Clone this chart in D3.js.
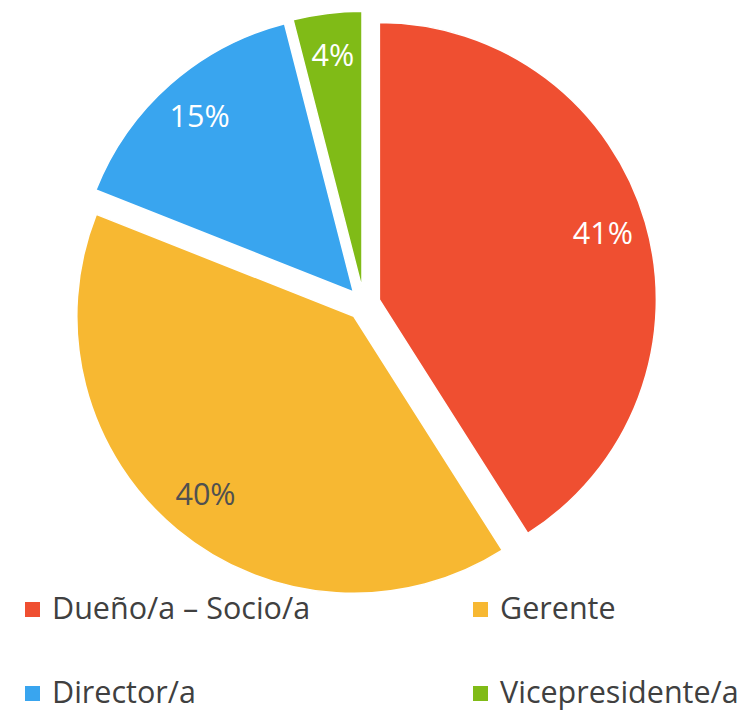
<!DOCTYPE html>
<html>
<head>
<meta charset="utf-8">
<script src="https://cdn.jsdelivr.net/npm/d3@7"></script>
<style>
  body { margin: 0; background: #fff; }
  text { font-family: "Open Sans", "Noto Sans", sans-serif; }
</style>
</head>
<body>
<svg id="chart" width="739" height="711"></svg>
<script>
let categories = ["Dueño/a – Socio/a", "Gerente", "Director/a", "Vicepresidente/a"]
let values = [41, 40, 15, 4]
let colors = ["#EF4F31", "#F7B832", "#39A5EF", "#80BB17"]
let labelColors = ["#ffffff", "#505050", "#ffffff", "#ffffff"]

let svg = d3.select("#chart")

let cx = 364, cy = 304
let radius = 277
let explode = 16

let pie = d3.pie().sort(null).value(d => d)
let arcs = pie(values)

let arc = d3.arc().innerRadius(0).outerRadius(radius)
let labelArc = d3.arc().innerRadius(radius * 0.84).outerRadius(radius * 0.84)

let shift = d => {
  let a = (d.startAngle + d.endAngle) / 2
  return [Math.sin(a) * explode, -Math.cos(a) * explode]
}

let g = svg.append("g").attr("transform", `translate(${cx},${cy})`)

let slices = g.selectAll("g.slice")
  .data(arcs)
  .enter()
  .append("g")
  .attr("class", "slice")
  .attr("transform", d => `translate(${shift(d)})`)

slices.append("path")
  .attr("d", arc)
  .attr("fill", (d, i) => colors[i])
  .attr("stroke", "#fff")
  .attr("stroke-width", 1.5)

slices.append("text")
  .attr("transform", d => `translate(${labelArc.centroid(d)})`)
  .attr("text-anchor", "middle")
  .attr("dy", "0.3em")
  .attr("font-size", 30.5)
  .attr("fill", (d, i) => labelColors[i])
  .text(d => d.data + "%")

// legend
let legendX = d3.scaleOrdinal().domain([0, 1]).range([25, 473])
let legendY = d3.scaleOrdinal().domain([0, 1]).range([602, 686])

let legend = svg.selectAll("g.legend")
  .data(categories)
  .enter()
  .append("g")
  .attr("class", "legend")
  .attr("transform", (d, i) => `translate(${legendX(i % 2)},${legendY(Math.floor(i / 2))})`)

legend.append("rect")
  .attr("width", 15)
  .attr("height", 15)
  .attr("fill", (d, i) => colors[i])

legend.append("text")
  .attr("x", 27)
  .attr("y", 17)
  .attr("font-size", 30.5)
  .attr("fill", "#404040")
  .text(d => d)
</script>
</body>
</html>
